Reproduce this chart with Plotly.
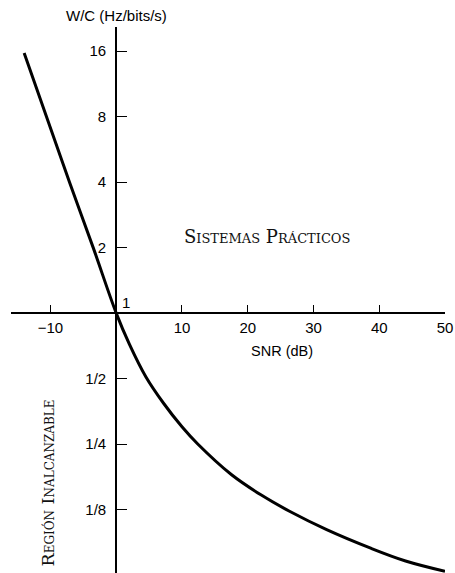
import math
import plotly.graph_objects as go

# Data
snr_db = [-14.0, -10.6, -7.1, -3.5, 0.0, 2.0, 4.5, 7.2, 10.0, 12.4, 17.5, 22.0, 26.5, 32.0, 38.7, 44.0, 50.0]
wc = [15.7, 8.0, 4.0, 2.0, 1.0, 0.72, 0.51, 0.385, 0.30, 0.25, 0.181, 0.146, 0.122, 0.101, 0.083, 0.0725, 0.065]

x_tickvals = [-10, 10, 20, 30, 40, 50]
x_ticktext = ["\u221210", "10", "20", "30", "40", "50"]
y_tickvals = [1/8, 1/4, 1/2, 2, 4, 8, 16]
y_ticktext = ["1/8", "1/4", "1/2", "2", "4", "8", "16"]

x_range = [-16.0, 50.0]
y_range = [math.log10(2 ** -3.97), math.log10(2 ** 4.37)]

sans = "Liberation Sans, Arial, sans-serif"
tick_font = dict(family=sans, size=15, color="black")
serif = "DejaVu Serif, Liberation Serif, serif"

fig = go.Figure()
fig.add_trace(go.Scatter(
    x=snr_db, y=wc, mode="lines",
    line=dict(color="black", width=3, shape="spline", smoothing=1.0),
    hoverinfo="skip", showlegend=False, cliponaxis=False,
))

x_axis_pos = (0 - y_range[0]) / (y_range[1] - y_range[0])
y_axis_pos = (0 - x_range[0]) / (x_range[1] - x_range[0])

fig.update_layout(
    width=455, height=573,
    margin=dict(l=11, r=10, t=27, b=0, autoexpand=False),
    paper_bgcolor="white", plot_bgcolor="white",
    xaxis=dict(
        range=x_range, anchor="free", position=x_axis_pos, automargin=False,
        showgrid=False, zeroline=False,
        showline=True, linecolor="black", linewidth=2,
        ticks="inside", ticklen=7, tickwidth=1.3, tickcolor="black",
        tickvals=x_tickvals, ticktext=x_ticktext,
        tickfont=tick_font, ticklabelstandoff=1,
    ),
    yaxis=dict(
        type="log", range=y_range, anchor="free", position=y_axis_pos, automargin=False,
        showgrid=False, zeroline=False,
        showline=True, linecolor="black", linewidth=2,
        ticks="inside", ticklen=10, tickwidth=1.3, tickcolor="black",
        tickvals=y_tickvals, ticktext=y_ticktext,
        tickfont=tick_font, ticklabelstandoff=6,
    ),
    annotations=[
        dict(text="1", x=0, y=0, xref="x", yref="y", showarrow=False,
             xshift=10, yshift=11, font=tick_font),
        dict(text="W/C (Hz/bits/s)", x=0, y=1, xref="x", yref="paper",
             xanchor="center", yanchor="middle",
             showarrow=False, yshift=12, font=dict(family=sans, size=15, color="black")),
        dict(text="SNR (dB)", x=25.2, y=-0.174, xref="x", yref="y",
             showarrow=False, font=dict(family=sans, size=14.5, color="black")),
        dict(text="Sistemas Prácticos", x=22.9, y=0.350, xref="x", yref="y",
             showarrow=False, font=dict(family=serif, size=18, color="#111111", variant="small-caps")),
        dict(text="Región Inalcanzable", x=-10.4, y=-0.78, xref="x", yref="y",
             showarrow=False, textangle=-90,
             font=dict(family=serif, size=17.5, color="#111111", variant="small-caps")),
    ],
)

fig.write_html("out.html", config={"displayModeBar": False},
               post_script="document.body.style.margin='0';")
